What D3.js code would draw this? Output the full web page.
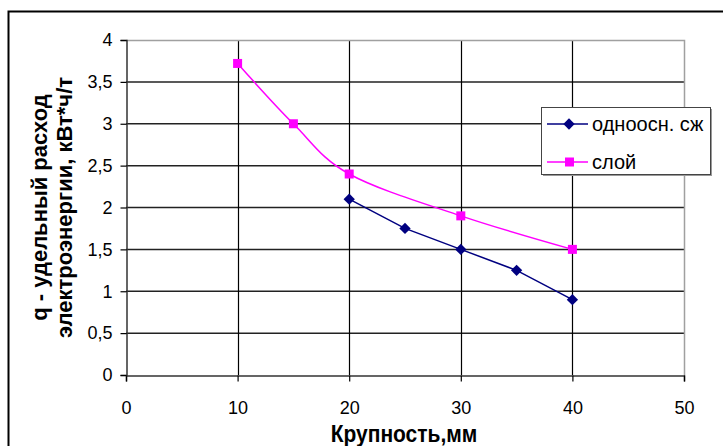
<!DOCTYPE html>
<html>
<head>
<meta charset="utf-8">
<script src="https://cdn.jsdelivr.net/npm/d3@7"></script>
<style>
  body { margin: 0; background: #fff; }
  svg text { font-family: "Liberation Sans", Arial, sans-serif; fill: #000; }
</style>
</head>
<body>
<svg id="chart"></svg>
<script>
// Data
const seriesNames = ["одноосн. сж", "слой"];
const uniX = [20, 25, 30, 35, 40];
const uniY = [2.1, 1.75, 1.5, 1.25, 0.9];
const layerX = [10, 15, 20, 30, 40];
const layerY = [3.72, 3.0, 2.4, 1.9, 1.5];
const xTicks = [0, 10, 20, 30, 40, 50];
const yTicks = [0, 0.5, 1, 1.5, 2, 2.5, 3, 3.5, 4];

const W = 723, H = 446;
const plot = { left: 126, right: 684, top: 40, bottom: 375 };

const svg = d3.select("#chart").attr("width", W).attr("height", H);

// outer chart frame (runs past the right/bottom edge)
svg.append("rect")
    .attr("x", 8.5).attr("y", 11.5)
    .attr("width", 730).attr("height", 450)
    .attr("fill", "#fff").attr("stroke", "#000").attr("stroke-width", 2);

const x = d3.scaleLinear().domain([0, 50]).range([plot.left, plot.right]);
const y = d3.scaleLinear().domain([0, 4]).range([plot.bottom, plot.top]);
const fmt = d => String(d).replace(".", ",");

// gridlines
const grid = svg.append("g");
grid.selectAll(".hg").data(yTicks.filter(d => d > 0 && d < 4)).enter().append("line")
    .attr("x1", plot.left).attr("x2", plot.right)
    .attr("y1", d => y(d)).attr("y2", d => y(d))
    .attr("stroke", "#222").attr("stroke-width", 1.5);
grid.selectAll(".vg").data(xTicks.filter(d => d > 0 && d < 50)).enter().append("line")
    .attr("y1", plot.top).attr("y2", plot.bottom)
    .attr("x1", d => Math.round(x(d)) + 0.5).attr("x2", d => Math.round(x(d)) + 0.5)
    .attr("stroke", "#000").attr("stroke-width", 1.2);

// plot area border (top and right grey)
svg.append("path")
    .attr("d", `M${plot.left},${plot.top + 0.5}H${plot.right + 0.5}V${plot.bottom}`)
    .attr("fill", "none").attr("stroke", "#a0a0a0").attr("stroke-width", 1.5);

// axes
const xAxis = svg.append("g")
    .attr("transform", `translate(0,${plot.bottom + 0.5})`)
    .call(d3.axisBottom(x).tickValues(xTicks).tickSize(6).tickPadding(20).tickFormat(fmt));
const yAxis = svg.append("g")
    .attr("transform", `translate(${plot.left + 0.5},0)`)
    .call(d3.axisLeft(y).tickValues(yTicks).tickSize(6).tickPadding(8).tickFormat(fmt));
[xAxis, yAxis].forEach(a => {
    a.select(".domain").attr("stroke", "#333").attr("stroke-width", 1.5);
    a.selectAll(".tick line").attr("stroke", "#000").attr("stroke-width", 1.2);
    a.selectAll("text").attr("font-size", 18).attr("font-family", "Liberation Sans, Arial, sans-serif");
});

// series
const uni = uniX.map((v, i) => [v, uniY[i]]);
const layer = layerX.map((v, i) => [v, layerY[i]]);

svg.append("path").datum(layer)
    .attr("d", d3.line().x(d => x(d[0])).y(d => y(d[1])).curve(d3.curveCatmullRom.alpha(0)))
    .attr("fill", "none").attr("stroke", "#ff00ff").attr("stroke-width", 1.5);
svg.append("path").datum(uni)
    .attr("d", d3.line().x(d => x(d[0])).y(d => y(d[1])))
    .attr("fill", "none").attr("stroke", "#000080").attr("stroke-width", 1.5);

svg.selectAll(".uni").data(uni).enter().append("rect")
    .attr("x", -4).attr("y", -4).attr("width", 8).attr("height", 8)
    .attr("transform", d => `translate(${x(d[0])},${y(d[1])}) rotate(45)`)
    .attr("fill", "#000080");
svg.selectAll(".lay").data(layer).enter().append("rect")
    .attr("x", d => x(d[0]) - 4.5).attr("y", d => y(d[1]) - 4.5)
    .attr("width", 9).attr("height", 9)
    .attr("fill", "#ff00ff");

// axis titles
svg.append("text")
    .attr("transform", `translate(${(plot.left + plot.right) / 2 - 1},442) scale(1,1.1)`)
    .attr("text-anchor", "middle")
    .attr("font-size", 21).attr("font-weight", "bold")
    .text("Крупность,мм");

const yt = svg.append("text")
    .attr("transform", `translate(47,${(plot.top + plot.bottom) / 2}) rotate(-90)`)
    .attr("text-anchor", "middle")
    .attr("font-size", 22).attr("font-weight", "bold");
yt.append("tspan").attr("x", 0).attr("dy", 0).text("q - удельный расход");
yt.append("tspan").attr("x", 0).attr("dy", 25).text("электроэнергии, кВт*ч/т");

// legend
const lg = svg.append("g").attr("transform", "translate(541,107)");
lg.append("rect").attr("x", 2).attr("y", 2).attr("width", 169).attr("height", 67).attr("fill", "#999");
lg.append("rect").attr("x", 0.5).attr("y", 0.5).attr("width", 169).attr("height", 67)
    .attr("fill", "#fff").attr("stroke", "#444").attr("stroke-width", 1);
const rows = [
    { name: seriesNames[0], color: "#000080", shape: "diamond", yy: 17 },
    { name: seriesNames[1], color: "#ff00ff", shape: "square", yy: 55 }
];
rows.forEach(r => {
    lg.append("line").attr("x1", 6).attr("x2", 47).attr("y1", r.yy).attr("y2", r.yy)
        .attr("stroke", r.color).attr("stroke-width", 1.5);
    if (r.shape === "diamond") {
        lg.append("rect").attr("x", -4).attr("y", -4).attr("width", 8).attr("height", 8)
            .attr("transform", `translate(28,${r.yy}) rotate(45)`).attr("fill", r.color);
    } else {
        lg.append("rect").attr("x", 24).attr("y", r.yy - 4.5).attr("width", 9).attr("height", 9)
            .attr("fill", r.color);
    }
    lg.append("text").attr("x", 51).attr("y", r.yy + 7).attr("font-size", 20).text(r.name);
});
</script>
</body>
</html>
